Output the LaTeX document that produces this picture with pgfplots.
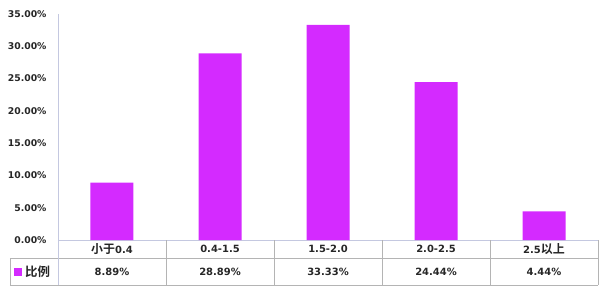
\documentclass[border=0pt]{standalone}
\usepackage{pgfplots}
\pgfplotsset{compat=1.18}
\usepackage{fontspec}
\setmainfont{DejaVu Sans}
\newfontfamily\cjk{Noto Sans CJK SC}[BoldFont={Noto Sans CJK SC Bold}]
\newcommand{\cj}[1]{{\fontsize{12}{13}\selectfont\cjk\bfseries #1}}
\definecolor{barc}{RGB}{212,42,255}
\definecolor{axc}{RGB}{196,200,224}
\definecolor{tabc}{RGB}{180,180,180}
\begin{document}
\begin{tikzpicture}
\begin{axis}[
  scale only axis, width=540bp, height=226bp,
  xmin=-0.5, xmax=4.5, ymin=0, ymax=35,
  clip=false,
  axis x line=bottom, axis y line=left,
  axis line style={-, draw=axc, line width=0.8pt},
  ytick={0,5,...,35},
  xtick=data,
  xticklabels={\cj{小于}0.4, 0.4-1.5, 1.5-2.0, 2.0-2.5, 2.5\cj{以上}},
  xticklabel style={anchor=center, yshift=-9bp, font=\fontsize{10}{12}\selectfont\bfseries},
  yticklabel={\pgfmathprintnumber[fixed,fixed zerofill,precision=2]{\tick}\%},
  yticklabel style={xshift=-8bp},
  /pgf/number format/assume math mode=true,
  tick label style={font=\fontsize{9.3}{11}\selectfont\bfseries, text=black!85},
  major tick length=0pt,
  tick style={draw=none},
]
\addplot[ybar, bar width=43bp, fill=barc, draw=none] coordinates {
(0,8.89) (1,28.89) (2,33.33) (3,24.44) (4,4.44)};
% data table
\draw[tabc, line width=0.5pt] ([yshift=-18bp]rel axis cs:0,0) -- ([yshift=-18bp]rel axis cs:1,0);
\draw[tabc, line width=0.5pt] ([xshift=-48bp,yshift=-18bp]rel axis cs:0,0) -- ([yshift=-18bp]rel axis cs:0,0);
\draw[tabc, line width=0.5pt] ([xshift=-48bp,yshift=-45bp]rel axis cs:0,0) -- ([yshift=-45bp]rel axis cs:1,0);
\draw[tabc, line width=0.5pt] ([xshift=-48bp,yshift=-18bp]rel axis cs:0,0) -- ([xshift=-48bp,yshift=-45bp]rel axis cs:0,0);
\draw[axc, line width=0.8pt] (rel axis cs:0,0) -- ([yshift=-45bp]rel axis cs:0,0);
\draw[tabc, line width=0.5pt] (rel axis cs:0.2,0) -- ([yshift=-45bp]rel axis cs:0.2,0);
\draw[tabc, line width=0.5pt] (rel axis cs:0.4,0) -- ([yshift=-45bp]rel axis cs:0.4,0);
\draw[tabc, line width=0.5pt] (rel axis cs:0.6,0) -- ([yshift=-45bp]rel axis cs:0.6,0);
\draw[tabc, line width=0.5pt] (rel axis cs:0.8,0) -- ([yshift=-45bp]rel axis cs:0.8,0);
\draw[tabc, line width=0.5pt] (rel axis cs:1,0) -- ([yshift=-45bp]rel axis cs:1,0);
\fill[barc] ([xshift=-44bp,yshift=-27.5bp]rel axis cs:0,0) rectangle ([xshift=-36bp,yshift=-35.5bp]rel axis cs:0,0);
\node[anchor=west, font=\fontsize{12.5}{14}\selectfont\cjk\bfseries, text=black!85, inner sep=0pt] at ([xshift=-33bp,yshift=-31.5bp]rel axis cs:0,0) {比例};
\node[font=\fontsize{10}{12}\selectfont\bfseries, text=black!85] at ([yshift=-31.5bp]axis cs:0,0) {8.89\%};
\node[font=\fontsize{10}{12}\selectfont\bfseries, text=black!85] at ([yshift=-31.5bp]axis cs:1,0) {28.89\%};
\node[font=\fontsize{10}{12}\selectfont\bfseries, text=black!85] at ([yshift=-31.5bp]axis cs:2,0) {33.33\%};
\node[font=\fontsize{10}{12}\selectfont\bfseries, text=black!85] at ([yshift=-31.5bp]axis cs:3,0) {24.44\%};
\node[font=\fontsize{10}{12}\selectfont\bfseries, text=black!85] at ([yshift=-31.5bp]axis cs:4,0) {4.44\%};
\path ([xshift=-58bp,yshift=-49bp]rel axis cs:0,0) rectangle ([xshift=2bp,yshift=14bp]rel axis cs:1,1);
\end{axis}
\end{tikzpicture}
\end{document}
